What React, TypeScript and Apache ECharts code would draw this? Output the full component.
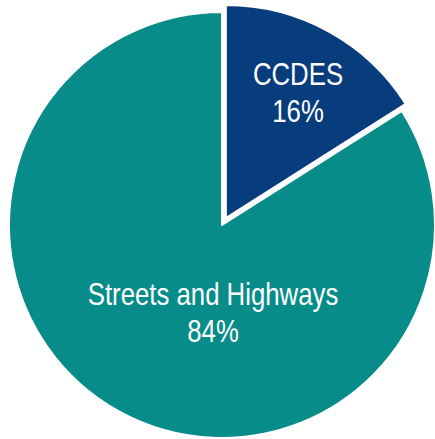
import React, { useEffect, useRef } from "react";
import * as echarts from "echarts";

const categories = ["CCDES", "Streets and Highways"];
const values = [16, 84];
const colors = ["#073D7D", "#088C8A"];
const labelPos = [
  [298, 93],
  [213, 313],
];

export default function App() {
  const ref = useRef<HTMLDivElement>(null);
  useEffect(() => {
    if (!ref.current) return;
    const chart = echarts.init(ref.current, undefined, { renderer: "svg" });
    const total = values.reduce((a, b) => a + b, 0);
    chart.setOption({
      animation: false,
      backgroundColor: "#ffffff",
      graphic: categories.map((c, i) => ({
        type: "text",
        x: labelPos[i][0],
        y: labelPos[i][1],
        scaleX: 0.845,
        z: 100,
        style: {
          text: `${c}\n${Math.round((values[i] / total) * 100)}%`,
          fill: "#ffffff",
          fontFamily: "'Liberation Sans', Arial, sans-serif",
          fontSize: 30.5,
          lineHeight: 37,
          align: "center",
          verticalAlign: "middle",
        },
      })),
      series: [
        {
          type: "pie",
          center: [222, 225],
          radius: 213,
          startAngle: 90,
          clockwise: true,
          selectedMode: "single",
          selectedOffset: 8,
          emphasis: { disabled: true },
          itemStyle: { borderColor: "#ffffff", borderWidth: 2 },
          label: { show: false },
          labelLine: { show: false },
          data: categories.map((c, i) => ({
            name: c,
            value: values[i],
            selected: i === 0,
            itemStyle: { color: colors[i] },
          })),
        },
      ],
    });
    return () => chart.dispose();
  }, []);
  return (
    <div
      ref={ref}
      style={{ position: "fixed", left: 0, top: 0, width: 435, height: 439 }}
    />
  );
}
